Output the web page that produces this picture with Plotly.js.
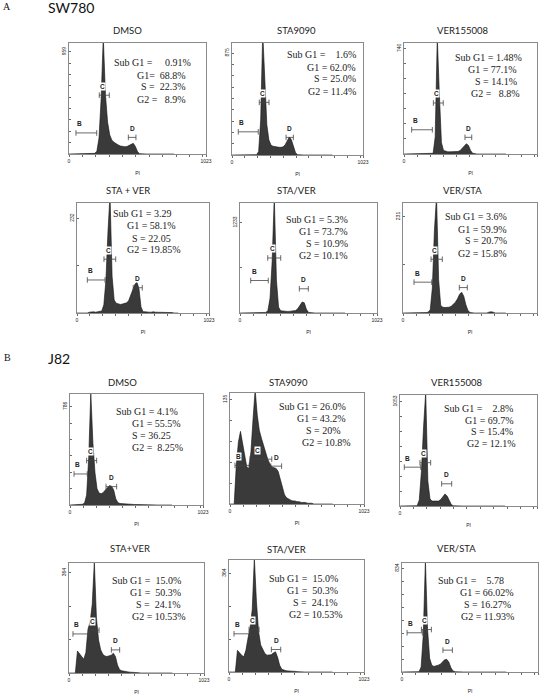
<!DOCTYPE html>
<html><head><meta charset="utf-8">
<script src="https://cdn.plot.ly/plotly-3.0.1.min.js"></script>
<style>html,body{margin:0;padding:0;background:#fff;}#chart{width:539px;height:697px;}</style>
</head><body><div id="chart"></div>
<script>
// PI channel (bin start) shared by all histograms
const channels = [0,16,32,48,64,80,96,112,128,144,
  160,176,192,208,224,240,256,272,288,304,
  320,336,352,368,384,400,416,432,448,464,
  480,496,512,528,544,560,576,592,608,624,
  640,656,672,688,704,720,736,752,768,784];

// SW780 cell counts per channel
const sw780_dmso = [0,0,0,0,0,0,0,0,0,0, 0,2,6,25,150,520,1100,560,300,180,
  130,110,95,85,75,70,68,70,80,95, 100,70,20,3,0,0,0,0,0,0, 0,0,0,0,0,0,0,0,0,0];
const sw780_sta9090 = [0,0,0,0,0,0,0,0,0,0, 0,0,3,30,300,1050,600,260,130,85,
  75,70,68,66,66,70,90,130,155,130, 70,20,3,0,0,0,0,0,0,0, 0,0,0,0,0,0,0,0,0,0];
const sw780_ver155008 = [0,0,0,0,0,0,0,0,0,0, 0,0,0,0,5,120,820,420,80,25,
  18,16,15,15,15,16,18,25,40,60, 72,60,25,5,0,0,0,0,0,0, 0,0,0,0,0,0,0,0,0,0];
const sw780_sta_plus_ver = [0,0,0,0,0,0,2,3,3,2, 3,3,5,20,80,200,290,90,32,24,
  22,21,22,23,25,30,42,58,70,76, 60,15,3,3,2,2,2,3,2,2, 2,2,2,1,1,1,1,0,0,0];
const sw780_sta_then_ver = [0,0,0,0,0,0,0,5,5,6, 5,6,8,30,200,700,1600,450,80,30,
  25,22,22,22,24,28,35,60,110,150, 140,50,8,2,0,0,0,0,0,0, 0,0,0,0,0,0,0,0,0,0];
const sw780_ver_then_sta = [0,0,0,0,0,0,1,1,1,1, 1,1,2,8,60,200,280,80,18,14,
  13,13,14,16,20,26,34,45,50,40, 20,6,1,0,0,0,0,0,0,0, 0,2,3,2,0,0,0,0,0,0];

// J82 cell counts per channel
const j82_dmso = [0,0,0,0,2,4,6,15,80,380, 900,500,260,130,95,90,100,120,140,155,
  150,120,50,20,12,10,8,7,6,5, 5,4,4,3,3,2,1,0,0,0, 0,0,0,0,0,0,0,0,0,0];
const j82_sta9090 = [0,0,0,50,80,94,78,60,48,46, 68,110,148,115,95,85,75,68,58,52,
  48,47,46,42,33,22,12,8,6,5, 4,4,3,3,2,2,2,1,1,1, 0,0,0,0,0,0,0,0,0,0];
const j82_ver155008 = [0,0,0,0,0,0,0,0,3,60, 350,800,1150,250,70,50,52,55,50,65,
  100,122,100,50,12,2,0,0,0,0, 0,0,0,0,0,0,0,0,0,0, 0,0,0,0,0,0,0,0,0,0];
const j82_sta_plus_ver = [0,0,0,0,80,70,58,50,75,160, 185,250,405,200,120,85,68,62,60,62,
  65,72,60,28,12,8,6,5,4,3, 3,2,2,1,0,0,0,0,0,0, 0,0,0,0,0,0,0,0,0,0];
const j82_sta_then_ver = [0,0,0,0,80,70,62,56,80,125, 165,230,420,260,150,100,82,68,62,62,
  64,70,75,55,25,10,6,5,4,4, 3,3,2,1,0,0,0,0,0,0, 0,0,0,0,0,0,0,0,0,0];
const j82_ver_then_sta = [0,0,0,0,1,1,1,1,3,40, 300,900,350,110,55,45,48,55,62,80,
  98,102,80,35,8,2,0,0,0,0, 0,0,0,0,0,0,0,0,0,0, 0,0,0,0,0,0,0,0,0,0];

const panelTitles = ['DMSO','STA9090','VER155008','STA + VER','STA/VER','VER/STA',
                     'DMSO','STA9090','VER155008','STA+VER','STA/VER','VER/STA'];
const yMaxLabels = [959,875,740,232,1233,231,786,135,1053,364,364,834];

// Gates [start channel, end channel, count level]
const gateB = [[52,207,198],[49,205,199],[59,218,170],[80,217,81],[80,211,444],[84,219,74],
               [31,133,248],[38,147,50],[32,155,392],[30,152,142],[38,162,141],[38,153,316]];
const gateC = [[226,301,552],[213,289,452],[226,302,358],[209,300,132],[207,304,752],[214,300,129],
               [128,205,355],[153,319,58],[149,229,437],[152,228,156],[152,228,157],[146,221,342]];
const gateD = [[443,500,156],[422,479,151],[469,521,117],[436,506,62],[443,510,331],[430,491,61],
               [277,359,147],[311,394,49],[311,386,224],[321,384,84],[321,392,83],[308,379,176]];

const sw780Stats = [
  ['Sub G1 =     0.91%','G1=  68.8%','S =  22.3%','G2 =   8.9%'],
  ['Sub G1 =    1.6%','G1 = 62.0%','S = 25.0%','G2 = 11.4%'],
  ['Sub G1 = 1.48%','G1 = 77.1%','S = 14.1%','G2 =   8.8%'],
  ['Sub G1 = 3.29','G1 = 58.1%','S = 22.05','G2 = 19.85%'],
  ['Sub G1 = 5.3%','G1 = 73.7%','S = 10.9%','G2 = 10.1%'],
  ['Sub G1 = 3.6%','G1 = 59.9%','S = 20.7%','G2 = 15.8%']];
const j82Stats = [
  ['Sub G1 = 4.1%','G1 = 55.5%','S = 36.25','G2 =  8.25%'],
  ['Sub G1 = 26.0%','G1 = 43.2%','S = 20%','G2 = 10.8%'],
  ['Sub G1 =    2.8%','G1 = 69.7%','S = 15.4%','G2 = 12.1%'],
  ['Sub G1 =  15.0%','G1 =  50.3%','S =  24.1%','G2 = 10.53%'],
  ['Sub G1 =  15.0%','G1 =  50.3%','S =  24.1%','G2 = 10.53%'],
  ['Sub G1 =    5.78','G1 = 66.02%','S = 16.27%','G2 = 11.93%']];

// ---------- layout (pixel geometry) ----------
const W = 539, H = 697;
const boxes = [[69,206,43,154],[232,363,43,155],[404,537,43,154],
               [77,209,203,313],[240,377,203,313],[403,537,203,313],
               [70,203,394,505],[230,364,393,504],[400,537,395,506],
               [69,204,563,673],[229,364,560,672],[402,538,563,672]];
const labelFrac = [0.92,0.91,0.95,0.86,0.82,0.875,0.886,0.94,0.94,0.91,0.88,0.95];
const yTickN = [9,9,7,2,2,2,6,5,7,3,3,8];
const titlePos = [[127,31],[297,31],[462,31],[128,190],[296,190],[462,190],
                  [122,383],[288,383],[456,382],[130,548],[286,549],[456,548]];
const statPos = [[192,63],[357,55],[523,57],[182,214],[349,219],[508,217],
                 [184,411],[352,406],[517,408],[187,580],[344,578],[515,580]];
const statPad = [[0,2,2,2],[0,0,0,0],[0,2,2,1],[4,2,4,0],[0,0,0,0],[0,0,0,0],
                 [2,1,5,0],[2,2,4,0],[1,1,1,0],[2,2,2,0],[2,2,2,0],[4,0,1,0]];

const histograms = [sw780_dmso, sw780_sta9090, sw780_ver155008, sw780_sta_plus_ver, sw780_sta_then_ver, sw780_ver_then_sta,
                    j82_dmso, j82_sta9090, j82_ver155008, j82_sta_plus_ver, j82_sta_then_ver, j82_ver_then_sta];
const stats = sw780Stats.concat(j82Stats);

const NB = '\u00A0';
const data = [];
const layout = {
  width: W, height: H, margin: {l:0, r:0, t:0, b:0},
  paper_bgcolor: '#fff', plot_bgcolor: '#fff', showlegend: false,
  annotations: [], font: {family: 'Liberation Sans', color: '#222'}
};
const px2x = p => p / W, px2y = p => 1 - p / H;

const xTickVals = [0,100,200,300,400,500,600,700,800,900,1000,1023];
const xTickText = xTickVals.map(v => (v === 0 || v === 1023) ? String(v) : '');

histograms.forEach((series, i) => {
  const n = i + 1, sfx = n === 1 ? '' : String(n);
  const [L, R, T, B] = boxes[i];
  const fs = yMaxLabels[i] / labelFrac[i];
  const xa = 'x' + sfx, ya = 'y' + sfx;
  const yv = [], yt = [];
  for (let k = 0; k <= yTickN[i]; k++) {
    yv.push(yMaxLabels[i] * k / yTickN[i]);
    yt.push(k === yTickN[i] ? String(yMaxLabels[i]) : '');
  }
  layout['xaxis' + sfx] = {
    domain: [px2x(L), px2x(R)], anchor: ya, range: [0, 1023], fixedrange: true,
    tickmode: 'array', tickvals: xTickVals, ticktext: xTickText,
    ticks: 'outside', ticklen: 2, tickwidth: 0.8, tickcolor: '#444',
    tickfont: {size: 5, family: 'Liberation Sans', color: '#222'},
    showline: true, linecolor: '#8a8a8a', linewidth: 1, mirror: true,
    showgrid: false, zeroline: false,
    title: {text: 'PI', font: {size: 5, family: 'Liberation Sans', color: '#222'}, standoff: 8}
  };
  layout['yaxis' + sfx] = {
    domain: [px2y(B), px2y(T)], anchor: xa, range: [0, fs], fixedrange: true,
    tickmode: 'array', tickvals: yv, ticktext: yt, tickangle: -90,
    ticks: 'inside', ticklen: 2, tickwidth: 0.8, tickcolor: '#444',
    tickfont: {size: 5, family: 'Liberation Sans', color: '#222'},
    showline: true, linecolor: '#8a8a8a', linewidth: 1, mirror: true,
    showgrid: false, zeroline: false
  };
  data.push({
    type: 'scatter', x: channels, y: series, xaxis: xa, yaxis: ya, mode: 'lines',
    line: {color: '#111', width: 0.6}, fill: 'tozeroy', fillcolor: '#3a3a3a', hoverinfo: 'skip'
  });
  [[gateB[i], 'B'], [gateC[i], 'C'], [gateD[i], 'D']].forEach(([g, lab]) => {
    data.push({
      type: 'scatter', x: [g[0], g[1]], y: [g[2], g[2]], xaxis: xa, yaxis: ya,
      mode: 'lines+markers', line: {color: '#444', width: 0.8},
      marker: {symbol: 'line-ns-open', size: 4, line: {width: 0.8, color: '#444'}}, hoverinfo: 'skip'
    });
    let ax, anc;
    if (lab === 'B') { ax = g[0]; anc = 'left'; }
    else if (lab === 'C') { ax = g[0] + (g[1] - g[0]) * 0.35; anc = 'center'; }
    else { ax = (g[0] + g[1]) / 2; anc = 'center'; }
    layout.annotations.push({
      xref: xa, yref: ya, x: ax, y: g[2], xanchor: anc, yanchor: 'middle', yshift: 9,
      text: '<b>' + lab + '</b>', showarrow: false, bgcolor: '#fff', borderpad: 0,
      font: {family: 'Liberation Sans', size: 6.5, color: '#222'}
    });
  });
  // panel title
  layout.annotations.push({
    xref: 'paper', yref: 'paper', x: px2x(titlePos[i][0]), y: px2y(titlePos[i][1]),
    xanchor: 'center', yanchor: 'middle', showarrow: false, text: panelTitles[i],
    font: {family: 'Lato', size: 9.5, color: '#222'}
  });
  // statistics text
  stats[i].forEach((line, k) => {
    const txt = line.replace(/ /g, NB) + NB.repeat(statPad[i][k]);
    layout.annotations.push({
      xref: 'paper', yref: 'paper', x: px2x(statPos[i][0]), y: px2y(statPos[i][1] + k * 12),
      xanchor: 'right', yanchor: 'middle', showarrow: false, text: txt, borderpad: 0,
      font: {family: 'Liberation Serif', size: 10, color: '#222'}
    });
  });
});

// figure part labels and cell-line headings
[['A', 2, 7, 'Liberation Serif', 10], ['SW780', 47, 8, 'Lato', 14],
 ['B', 3, 357, 'Liberation Serif', 10], ['J82', 47, 359, 'Lato', 14]].forEach(([t, x, y, f, s]) => {
  layout.annotations.push({
    xref: 'paper', yref: 'paper', x: px2x(x), y: px2y(y), xanchor: 'left', yanchor: 'middle',
    showarrow: false, text: t, borderpad: 0, font: {family: f, size: s, color: '#111'}
  });
});

Plotly.newPlot('chart', data, layout, {staticPlot: true, displayModeBar: false});
</script>
</body></html>
